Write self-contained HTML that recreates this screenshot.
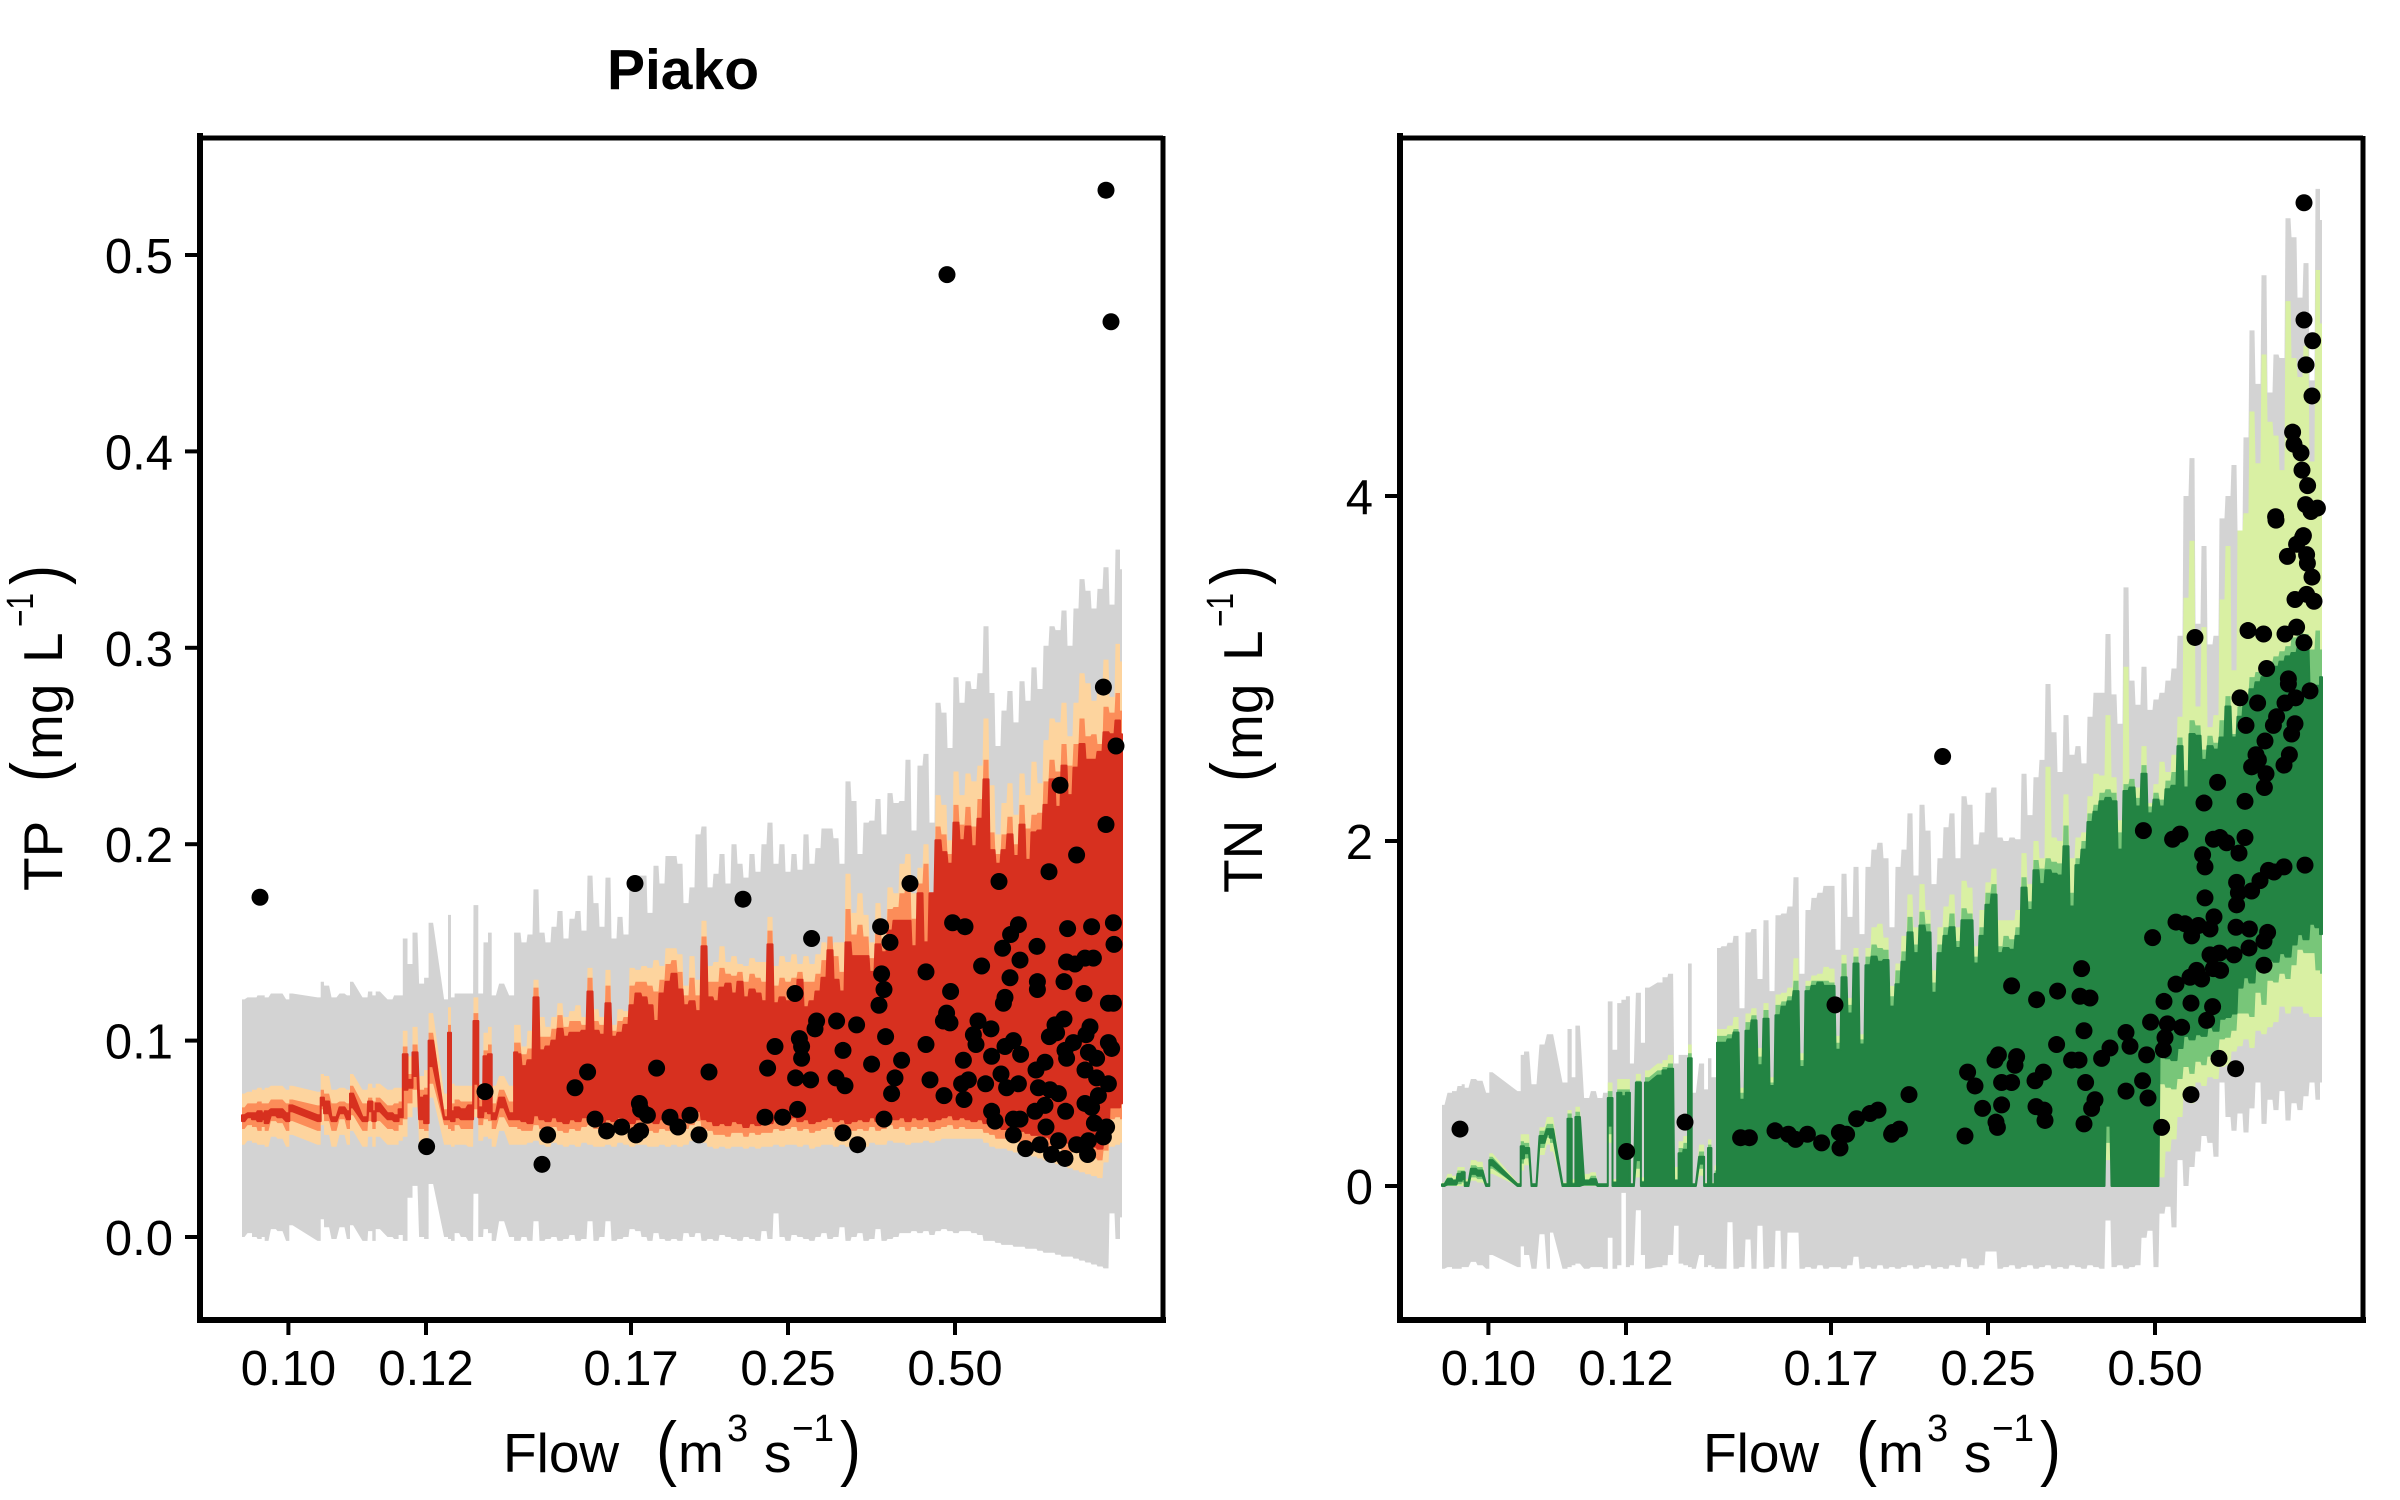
<!DOCTYPE html>
<html lang="en">
<head>
<meta charset="utf-8">
<title>Piako TP and TN against flow</title>
<style>
html,body{margin:0;padding:0;background:#fff;width:2400px;height:1500px;overflow:hidden}
svg{display:block}
text{font-family:"Liberation Sans",Arial,sans-serif;fill:#000}
</style>
</head>
<body>
<svg id="chart" xmlns="http://www.w3.org/2000/svg" width="2400" height="1500" viewBox="0 0 2400 1500">
<rect width="2400" height="1500" fill="#fff"/>
<text x="683" y="89" font-size="57" font-weight="bold" text-anchor="middle">Piako</text>

<g font-size="55">
<text x="503" y="1472">Flow</text>
<text x="656" y="1472" font-size="71" textLength="21" lengthAdjust="spacingAndGlyphs">(</text>
<text x="678" y="1472">m</text>
<text x="727" y="1441" font-size="38">3</text>
<text x="764" y="1472">s</text>
<text x="792" y="1441" font-size="38" textLength="42" lengthAdjust="spacingAndGlyphs">−1</text>
<text x="840" y="1472" font-size="71" textLength="21" lengthAdjust="spacingAndGlyphs">)</text>
</g>
<g font-size="55">
<text x="1703" y="1472">Flow</text>
<text x="1856" y="1472" font-size="71" textLength="21" lengthAdjust="spacingAndGlyphs">(</text>
<text x="1878" y="1472">m</text>
<text x="1927" y="1441" font-size="38">3</text>
<text x="1964" y="1472">s</text>
<text x="1992" y="1441" font-size="38" textLength="42" lengthAdjust="spacingAndGlyphs">−1</text>
<text x="2040" y="1472" font-size="71" textLength="21" lengthAdjust="spacingAndGlyphs">)</text>
</g>
<g font-size="55">
<text transform="translate(62 891) rotate(-90)">TP</text>
<text transform="translate(61 782) rotate(-90)" font-size="71" textLength="20" lengthAdjust="spacingAndGlyphs">(</text>
<text transform="translate(62 760) rotate(-90)">mg</text>
<text transform="translate(62 663) rotate(-90)">L</text>
<text transform="translate(33 627) rotate(-90)" font-size="38" textLength="34" lengthAdjust="spacingAndGlyphs">−1</text>
<text transform="translate(61 585) rotate(-90)" font-size="71" textLength="20" lengthAdjust="spacingAndGlyphs">)</text>
</g>
<g font-size="55">
<text transform="translate(1262 893) rotate(-90)">TN</text>
<text transform="translate(1261 782) rotate(-90)" font-size="71" textLength="20" lengthAdjust="spacingAndGlyphs">(</text>
<text transform="translate(1262 760) rotate(-90)">mg</text>
<text transform="translate(1262 661) rotate(-90)">L</text>
<text transform="translate(1233 627) rotate(-90)" font-size="38" textLength="34" lengthAdjust="spacingAndGlyphs">−1</text>
<text transform="translate(1261 585) rotate(-90)" font-size="71" textLength="20" lengthAdjust="spacingAndGlyphs">)</text>
</g>
</svg>
<script>
// Flow is plotted on a rank axis: ticks carry flow labels at their sample rank.
const xTickRanks = [23.2, 92, 194.5, 273, 356.5];
const xTickLabels = ['0.10', '0.12', '0.17', '0.25', '0.50'];
const tpTickValues = [0, 0.1, 0.2, 0.3, 0.4, 0.5];
const tpTickLabels = ['0.0', '0.1', '0.2', '0.3', '0.4', '0.5'];
const tnTickValues = [0, 2, 4];
const tnTickLabels = ['0', '2', '4'];

// Sample grid for the well-populated part of the flow range.
const denseRanks = [];
for (let r = 138; r <= 438; r += 3) denseRanks.push(r);
denseRanks.push(440);

// ---------- TP (values in 0.001 mg/L) ----------
const tpSparseRanks = [0,4,6,9,10.7,12,15.7,19,23.3,24,39,39.7,42.3,46,50,53.7,54.3,61.5,64.3,66,67.7,74,77.3,79.3,81.5,84,86.5,89.8,92.3,94.3,102.3,103.7,105.3,107.3,110.7,114.3,117,119.3,122,124,125.7,129.8,134.8,137.3];
const tpGrayHi = [121,122,122,123,123,122,124,124,121,124,122,130,128,122,124,123,130,122,125,123,125,121,123,123,152,139,155,129,132,160,121,164,122,124,124,124,169,124,150,155,123,129,123,155,
155,150,154,177,155,150,158,166,152,162,
166,156,184,170,158,183,152,163,154,182,
184,184,165,189,180,194,194,190,170,178,
205,209,178,185,195,180,200,190,183,195,
186,200,211,190,200,186,195,187,205,190,
198,208,208,203,190,232,222,195,211,212,
223,205,226,221,222,243,207,240,246,211,
272,267,249,285,272,283,279,287,311,277,
250,268,278,262,283,273,290,279,301,311,
309,319,301,320,335,329,320,330,341,322,
350,340];
const tpLightHi = [73,74,75,76,75,76,77,77,75,77,74,83,82,75,76,75,83,75,78,76,78,75,76,76,105,92,107,82,85,114,73,117,78,77,77,77,122,78,104,107,77,82,77,108,
108,97,105,131,112,107,112,119,112,115,
118,112,137,116,112,136,108,116,115,137,
136,138,137,141,138,147,147,144,128,143,
131,161,138,140,148,140,143,139,138,142,
140,140,163,138,143,140,144,139,143,139,
144,150,145,150,150,185,165,175,164,150,
170,160,178,175,190,195,175,188,200,175,
225,220,202,237,225,236,232,240,264,230,
205,221,231,215,236,225,242,231,253,264,
262,272,255,272,287,282,273,281,294,275,
302,293];
const tpMidHi = [66,68,68,69,68,68,70,70,68,70,67,75,73,68,69,68,77,68,71,69,71,67,68,69,97,83,98,75,76,104,65,108,68,70,69,69,114,70,95,98,68,75,69,99,
99,93,96,127,102,102,106,113,107,110,
110,108,132,110,108,128,105,110,112,128,
130,130,128,125,131,139,141,135,123,132,
123,153,130,130,137,134,133,135,130,134,
132,130,156,128,132,130,132,135,130,130,
134,141,153,143,135,167,154,159,153,142,
159,152,167,168,175,180,162,180,190,165,
209,205,195,220,210,219,209,223,243,206,
195,205,214,200,220,208,215,216,232,243,
237,251,240,251,264,255,256,251,270,267,
277,268];
const tpDarkHi = [62,63,63,64,63,64,65,65,63,67,62,71,69,61,66,64,73,61,69,64,68,63,62,65,93,80,94,71,72,100,61,104,64,66,65,67,110,66,92,93,63,71,63,94,
93,87,90,122,95,97,100,106,102,104,
104,105,125,105,103,119,102,104,108,118,
124,122,118,110,124,130,134,126,118,120,
115,148,122,120,127,129,124,130,122,126,
124,120,149,119,122,120,120,131,117,120,
125,132,146,131,125,150,143,143,143,135,
149,145,156,161,161,161,148,175,150,175,
202,196,190,211,202,209,199,213,233,197,
190,197,205,194,210,192,206,207,220,233,
219,240,225,239,251,243,243,247,257,256,
263,256];
const tpDarkLo = [59,61,60,59,60,58,62,61,59,64,59,67,63,59,63,60,66,59,64,59,64,60,59,61,75,76,82,60,58,87,60,60,59,61,60,60,78,61,64,63,60,66,60,60,
60,59,58,62,60,59,61,59,58,60,
59,61,62,60,58,60,59,61,59,58,
60,61,59,58,60,59,60,58,60,62,
64,60,59,57,58,57,59,58,56,58,
57,59,58,60,59,60,61,59,60,58,
59,60,61,59,60,58,59,60,59,61,
59,60,62,60,61,59,61,60,61,59,
60,61,62,60,61,60,59,60,58,57,
56,55,55,54,54,53,52,52,51,50,
50,49,48,48,47,46,46,45,50,66,
66,68];
const tpMidLo = [55,57,56,54,56,54,59,58,54,59,54,65,59,54,60,55,62,54,59,55,59,55,54,57,60,68,75,55,54,78,57,55,54,57,55,55,65,57,60,59,55,61,56,56,
55,54,54,57,55,54,56,54,53,55,
54,56,57,55,53,55,54,56,54,53,
55,56,54,53,55,54,55,53,55,57,
59,55,54,52,52,51,53,53,51,53,
52,53,53,55,54,55,56,54,55,53,
54,55,56,54,55,53,54,55,54,56,
54,55,57,55,56,54,56,55,56,54,
55,56,57,55,56,55,55,55,53,52,
50,50,49,49,48,47,47,46,46,45,
45,44,43,43,42,41,40,39,44,60,
61,60];
const tpLightLo = [47,49,48,47,47,46,51,50,46,52,47,57,52,46,52,47,54,46,51,46,51,47,47,49,51,61,66,47,46,71,47,47,46,47,47,46,61,49,51,50,46,54,47,47,
47,47,48,49,47,46,48,47,46,47,
46,48,47,46,46,47,46,48,47,46,
47,47,46,46,47,46,47,46,47,49,
52,48,46,45,46,45,46,46,45,46,
45,46,46,47,46,47,47,46,47,45,
46,47,47,46,47,46,46,47,46,48,
47,47,49,48,48,47,48,48,49,48,
49,50,50,50,50,50,50,50,48,46,
45,45,44,43,42,42,41,40,39,38,
37,36,35,34,33,32,31,30,38,46,
47,48];
const tpGrayLo = [0,2,0,-1,0,-2,4,3,-2,6,-2,9,5,-1,5,-1,6,-2,3,-2,4,0,-1,1,-2,20,26,0,-1,27,0,-1,-2,2,0,-2,22,0,4,2,-2,8,0,-2,
-2,0,-2,8,-2,-1,0,-2,-1,1,
-2,-1,8,-2,0,8,-2,-1,0,4,
3,0,-2,2,-1,-2,-1,-2,2,0,
2,-2,-1,-2,1,0,-1,-2,0,-1,
-2,3,-1,12,0,-2,1,0,-1,-2,
0,2,-1,0,5,-2,0,2,-2,-1,
4,-2,-1,0,2,2,3,2,3,1,
3,4,3,2,3,3,2,1,-2,-2,
-3,-4,-4,-5,-5,-6,-6,-7,-8,-8,
-9,-10,-10,-11,-12,-13,-14,-15,-16,12,
-1,10];
const tpPointRank = [9,196.5,172.8,166.5,207.3,121.5,176.5,198.7,199.3,202.7,
214,218,224,189.8,182.3,197,199.3,152.8,150,92.3,
228.5,233.5,250.5,266.5,262.8,261.5,270.3,276.5,284.8,278.7,
279.8,279.8,276.8,284.3,277.8,287.3,286.5,297.3,307.3,300.5,
314.8,321.8,329.8,326.5,324.8,297,301.5,300.5,307.8,321,
319.3,324,319.8,321,318.5,334,342,342,344,351,
354.3,352.3,350.7,354,355.3,361.5,378.5,369.8,368,374.5,
365.7,367,360.7,363.2,359.8,361,371.8,379.5,374.8,381.5,
385.7,389.3,388.2,382.3,374.8,376.5,385.7,389,385.7,391.8,
388.2,384.3,380.3,389,397.5,384,381.5,380.7,403.5,417.3,
412.8,424.8,435.7,436,412.3,416.5,421.5,425.7,411,397.7,
397.7,421,433.2,435.7,411,406.5,403.7,407.3,424,422,
415.7,411.5,412.3,433.2,434.8,423.2,427.3,401.5,397,421.5,
427.3,433.2,398.2,404,408.2,428.2,421.5,424.8,401.5,396.5,
411.8,402,426.2,432.3,430.7,408.2,399,404.8,411.5,417.3,
423.2,422.8,432,352.5,434.5,430.7,437,409,432];
const tpPointValue = [173,180,84,76,86,74,60,68,65,62,
61,56,62,56,54,52,54,52,37,46,
52,84,172,97,86,61,61,124,152,101,
97,91,81,80,65,110,106,110,108,95,
88,102,90,81,73,81,77,53,47,60,
158,150,134,126,118,180,135,98,80,72,
125,114,110,109,160,158,181,138,110,106,
103,98,90,80,78,70,78,83,92,97,
100,93,78,76,64,59,60,60,52,45,
159,154,147,141,148,132,122,119,186,194.5,
157,158,160,149,140,139,142,142,130,130,
126,124,119,119,111,108,102,104,107,103,
99,95,91,99,96,94,91,89,85,85,
81,78,76,75,73,72,68,66,67,64,
64,56,58,56,51,49,47,42,40,47,
49,42,533,490,466,280,250,230,210];

// ---------- TN (values in 0.01 mg/L) ----------
const tnSparseRanks = [0,4,6,9,10.7,12,15.7,19,23.3,24,39,39.7,42.3,46,50,53.7,54.3,61.5,64,65.7,67.7,72.3,75.7,79,81.8,84,86.5,88.7,90.7,93.2,94.7,98.2,100.7,102.3,109,111.5,114.3,117.3,119.3,122,124,125.7,129.8,132.3,133.7,135.7,137];
const tnGrayHi = [47,54,55,58,59,57,62,61,54,66,55,76,78,59,82,88,88,60,91,63,93,51,55,51,54,107,79,106,108,110,71,112,83,115,118,121,123,71,76,76,129,54,71,56,74,63,63,
138,139,141,145,103,147,149,120,154,113,
157,158,162,179,123,160,167,170,174,174,
137,181,156,185,146,185,195,199,190,150,
185,195,216,180,221,206,175,190,208,216,
190,226,221,198,205,228,231,202,200,202,
201,239,215,237,247,291,263,240,273,250,
255,245,272,286,286,320,285,268,347,293,
279,301,276,282,286,293,300,319,400,422,
326,371,314,319,387,400,418,380,434,496,
465,528,460,482,480,561,550,515,535,467,
578,560];
const tnLightHi = [2,7,6,11,11,4,15,14,1,19,2,30,30,1,34,40,40,2,44,4,46,7,8,1,1,60,4,62,62,62,1,65,5,67,71,73,76,11,26,29,82,1,24,2,27,2,12,
91,91,93,98,57,100,103,80,106,63,
111,112,115,132,77,119,122,123,127,126,
87,134,109,138,88,138,150,152,144,116,
129,145,169,150,175,160,125,150,162,169,
150,177,173,139,160,176,184,154,154,154,
160,193,175,200,190,243,202,200,227,190,
202,205,226,239,238,273,237,212,301,233,
231,255,222,233,246,240,250,272,341,374,
278,324,266,273,340,371,299,380,390,449,
419,482,443,435,415,513,480,469,487,420,
531,500];
const tnMidHi = [1,5,4,9,9,2,12,11,1,17,1,26,25,1,32,36,36,1,42,2,43,4,6,1,1,55,2,56,56,56,1,61,3,63,67,69,71,4,22,25,77,1,20,1,24,1,9,
87,87,88,91,54,95,99,75,102,60,
105,107,110,119,73,116,119,119,119,118,
83,129,105,133,85,133,140,138,137,110,
125,136,156,140,159,152,118,140,150,158,
142,161,158,133,150,170,175,139,145,143,
150,179,165,189,184,190,188,187,209,170,
190,200,216,221,228,230,228,205,233,236,
225,244,220,228,224,235,240,260,241,270,
267,253,261,257,270,284,262,278,285,295,
298,301,304,307,310,313,318,322,320,311,
322,311];
const tnDarkHi = [1,4,3,7,8,2,10,9,1,15,1,23,22,1,29,33,33,1,39,1,40,3,4,1,1,51,2,54,52,54,1,60,2,60,64,67,68,3,19,21,74,1,17,1,22,1,7,
83,83,85,89,50,90,96,70,97,58,
99,104,107,113,69,113,116,118,116,116,
79,121,100,129,82,128,133,130,131,104,
117,130,147,135,151,147,112,135,145,150,
138,154,154,129,145,163,169,135,138,137,
145,173,160,183,175,183,181,180,197,162,
186,195,211,217,223,225,223,195,229,231,
220,239,216,224,220,230,232,255,231,262,
261,247,255,253,260,278,260,272,280,288,
292,295,298,301,304,307,309,312,312,290,
290,295];
const tnDarkLo = [0,1,1,3,4,0,7,6,0,12,0,16,19,0,25,30,28,0,0,0,0,1,1,0,0,35,0,0,0,0,0,15,0,0,0,0,0,0,0,0,0,0,13,0,0,0,0,
0,0,0,0,0,0,0,0,0,0,
0,0,0,0,0,0,0,0,0,0,
0,0,0,0,0,0,0,0,0,0,
0,0,0,0,0,0,0,0,0,0,
0,0,0,0,0,0,0,0,0,0,
0,0,0,0,0,0,0,0,0,0,
0,0,0,0,0,35,0,0,0,0,
0,0,0,0,77,74,73,80,87,85,
88,87,92,90,97,98,100,115,121,118,
128,125,131,130,135,133,140,146,143,152,
150,146];
const tnMidLo = [0,0,0,1,2,0,5,4,0,10,0,13,16,0,22,28,25,0,0,0,0,0,0,0,0,30,0,0,0,0,0,10,0,0,0,0,0,0,0,0,0,0,10,0,0,0,0,
0,0,0,0,0,0,0,0,0,0,
0,0,0,0,0,0,0,0,0,0,
0,0,0,0,0,0,0,0,0,0,
0,0,0,0,0,0,0,0,0,0,
0,0,0,0,0,0,0,0,0,0,
0,0,0,0,0,0,0,0,0,0,
0,0,0,0,0,25,0,0,0,0,
0,0,0,0,59,57,56,62,69,65,
72,70,75,78,85,86,90,100,100,98,
112,105,119,118,123,120,128,137,135,135,
125,123];
const tnLightLo = [0,0,0,0,0,0,3,2,0,7,0,9,12,0,18,24,20,0,0,0,0,0,0,0,0,25,0,0,0,0,0,5,0,0,0,0,0,0,0,0,0,0,6,0,0,0,0,
0,0,0,0,0,0,0,0,0,0,
0,0,0,0,0,0,0,0,0,0,
0,0,0,0,0,0,0,0,0,0,
0,0,0,0,0,0,0,0,0,0,
0,0,0,0,0,0,0,0,0,0,
0,0,0,0,0,0,0,0,0,0,
0,0,0,0,0,15,0,0,0,0,
0,0,0,0,5,20,27,40,54,48,
60,58,63,62,69,70,78,81,85,80,
90,88,92,95,104,100,104,104,100,98,
98,98];
const tnGrayLo = [-48,-47,-48,-48,-47,-47,-44,-46,-48,-40,-47,-35,-40,-48,-28,-48,-27,-48,-47,-46,-45,-48,-47,-47,-48,-30,-48,-46,-4,-47,-46,-14,-40,-48,-47,-46,-40,-23,-45,-46,-47,-48,-40,-47,-46,-47,-48,
-48,-48,-21,-48,-47,-31,-48,-23,-48,-47,
-26,-48,-27,-27,-48,-47,-48,-46,-48,-47,
-47,-48,-46,-41,-48,-47,-48,-46,-48,-47,
-48,-47,-46,-48,-47,-46,-48,-47,-48,-46,
-47,-42,-47,-48,-46,-38,-38,-48,-47,-46,
-48,-47,-46,-48,-47,-46,-48,-47,-48,-46,
-47,-48,-46,-47,-48,-20,-47,-46,-48,-47,
-46,-30,-26,-47,-16,-12,-24,15,0,11,
20,29,25,17,60,40,32,42,31,45,
60,36,50,44,55,38,48,44,52,60,
50,60];
const tnPointRank = [9,92.3,121.5,196.5,149.3,153.7,166.5,173.2,176.8,182.7,
189.8,199,198.7,202.3,207.3,214,218,224.8,225.3,228.7,
233.5,261.5,262.8,266.5,270.3,276.5,278.2,277,277.7,279.8,
279.8,284.8,287.3,286.5,284.8,297.3,307.8,319.8,319,324,
321,307.3,314.8,318.5,300.7,296.5,297,301,301.5,321.8,
326.5,324.8,321,329.8,334,342,344,352.3,350.3,342,
353,359.8,374.5,388.5,396.8,355.3,367,371.5,374.8,378.2,
384,386,361,374.5,367,374,379.8,377.3,385.7,389.3,
384,388.7,396,403.5,411,411,412.8,397,403.7,385.3,
382.3,354.3,362.7,369.8,361.5,360.7,397.3,398.2,397.3,381.5,
381.5,380.3,398.5,404.8,409,413.2,416,421,431.5,250.3,
350.7,365.3,369,385.7,389,392.3,401.5,381,387.8,401.5,
411.2,412,404.8,408.2,407,421,423.7,411.5,424.8,426.5,
415.7,417.3,402,421.5,426.8,434,423.2,423.2,412.3,399,
407.8,376.5,403,410.8,421.5,427.3,431,426.5,432.3,436,
435,432.7,432.3,422.7,427.3,430.7,417,431,431,435.3,
432,435,425.3,426,429.5,430,432.8,431.8,434.5,437.7,
416.8,430.3];
const tnPointValue = [33,20,37,105,28,28,32,30,27,30,
25,22,31,30,39,42,44,30,31,33,
53,29,66,58,45,73,76,37,34,47,
60,60,75,70,116,108,113,126,110,109,
90,82,73,73,66,61,46,44,38,60,
50,45,36,74,80,89,81,76,61,55,
51,34,53,74,68,144,153,152,145,151,
149,156,107,106,117,121,120,125,126,125,
134,135,134,138,128,142,147,150,149,104,
96,95,94,92,86,79,163,170,176,167,
185,192,193,171,177,183,182,185,186,249,
206,201,204,201,202,199,202,222,234,223,
231,239,243,247,250,244,250,258,262,268,
267,272,267,280,283,287,291,294,300,283,
280,318,322,320,320,324,315,340,343,339,
353,361,366,365,372,377,386,570,502,490,
476,458,437,430,425,415,406,395,391,393,
388,376];

// ---------- Scales ----------
function linearScale(d0, d1, r0, r1) {
  return function (v) { return r0 + (v - d0) * (r1 - r0) / (d1 - d0); };
}
const tpX = linearScale(0, 440, 242, 1122);
const tnX = linearScale(0, 440, 1442, 2322);
const tpY = linearScale(0, 0.5, 1237, 255);
const tnY = linearScale(0, 4, 1186, 496);

const svg = document.getElementById('chart');
const NS = 'http://www.w3.org/2000/svg';
function make(tag, attrs) {
  const e = document.createElementNS(NS, tag);
  for (const k in attrs) e.setAttribute(k, attrs[k]);
  svg.appendChild(e);
  return e;
}
const halfWidth = 2.5;
function bandPath(ranks, hi, lo, x, y) {
  const top = [], bottom = [];
  for (let i = 0; i < ranks.length; i++) {
    const px = x(ranks[i]);
    const leftGap = i > 0 ? Math.min(halfWidth, (px - x(ranks[i - 1])) / 2) : 0;
    const rightGap = i < ranks.length - 1 ? Math.min(halfWidth, (x(ranks[i + 1]) - px) / 2) : 0;
    top.push((px - leftGap).toFixed(1) + ' ' + y(hi[i]).toFixed(1), (px + rightGap).toFixed(1) + ' ' + y(hi[i]).toFixed(1));
    bottom.unshift((px + rightGap).toFixed(1) + ' ' + y(lo[i]).toFixed(1), (px - leftGap).toFixed(1) + ' ' + y(lo[i]).toFixed(1));
  }
  return 'M' + top.concat(bottom).join('L') + 'Z';
}

// ---------- TP bands ----------
const tpRanks = tpSparseRanks.concat(denseRanks);
const tpYmg = function (v) { return tpY(v / 1000); };
const tpBand1 = make('path', { d: bandPath(tpRanks, tpGrayHi, tpGrayLo, tpX, tpYmg), fill: '#D3D3D3' });


const tpBand2 = make('path', { d: bandPath(tpRanks, tpLightHi, tpLightLo, tpX, tpYmg), fill: '#FDD49E' });


const tpBand3 = make('path', { d: bandPath(tpRanks, tpMidHi, tpMidLo, tpX, tpYmg), fill: '#FC8D59' });


const tpBand4 = make('path', { d: bandPath(tpRanks, tpDarkHi, tpDarkLo, tpX, tpYmg), fill: '#D7301F', stroke: '#D7301F', 'stroke-width': 2, 'stroke-linejoin': 'round' });


tpPointRank.forEach(function (r, i) {
  const c = make('circle', { cx: tpX(r), cy: tpYmg(tpPointValue[i]), r: 8.5, fill: '#000' });
  
  
});

// ---------- TN bands ----------
const tnRanks = tnSparseRanks.concat(denseRanks);
const tnYmg = function (v) { return tnY(v / 100); };
const tnBand1 = make('path', { d: bandPath(tnRanks, tnGrayHi, tnGrayLo, tnX, tnYmg), fill: '#D3D3D3' });


const tnBand2 = make('path', { d: bandPath(tnRanks, tnLightHi, tnLightLo, tnX, tnYmg), fill: '#D9F0A3' });


const tnBand3 = make('path', { d: bandPath(tnRanks, tnMidHi, tnMidLo, tnX, tnYmg), fill: '#78C679' });


const tnBand4 = make('path', { d: bandPath(tnRanks, tnDarkHi, tnDarkLo, tnX, tnYmg), fill: '#238443', stroke: '#238443', 'stroke-width': 2, 'stroke-linejoin': 'round' });


tnPointRank.forEach(function (r, i) {
  const c = make('circle', { cx: tnX(r), cy: tnYmg(tnPointValue[i]), r: 8.5, fill: '#000' });
  
  
});

// ---------- Axes ----------
function drawAxes(prefix, offset, x, y, ticks, labels) {
  const left = 200 + offset, right = 1163 + offset, top = 138, bottom = 1320;
  const frame = make('path', { d: 'M' + right + ' ' + top + 'L' + left + ' ' + top + 'M' + right + ' ' + (top - 2) + 'L' + right + ' ' + (bottom + 2), stroke: '#000', 'stroke-width': 5, fill: 'none' });
  
  
  const yAxis = make('line', { x1: left, x2: left, y1: top - 5, y2: bottom + 3, stroke: '#000', 'stroke-width': 6 });
  
  
  const xAxis = make('line', { x1: left - 3, x2: right + 3, y1: bottom, y2: bottom, stroke: '#000', 'stroke-width': 6 });
  
  
  xTickRanks.forEach(function (r, i) {
    const px = x(r);
    const t = make('line', { x1: px, x2: px, y1: bottom, y2: bottom + 15, stroke: '#000', 'stroke-width': 4 });
    
    
    const l = make('text', { x: px, y: 1385, 'font-size': 49, 'text-anchor': 'middle' });
    l.textContent = xTickLabels[i];
    
    
  });
  ticks.forEach(function (v, i) {
    const py = y(v);
    const t = make('line', { x1: left - 15, x2: left, y1: py, y2: py, stroke: '#000', 'stroke-width': 4 });
    
    
    const l = make('text', { x: 173 + offset, y: py + 18, 'font-size': 49, 'text-anchor': 'end' });
    l.textContent = labels[i];
    
    
  });
}
drawAxes('tp', 0, tpX, tpY, tpTickValues, tpTickLabels);
drawAxes('tn', 1200, tnX, tnY, tnTickValues, tnTickLabels);
</script>
</body>
</html>
